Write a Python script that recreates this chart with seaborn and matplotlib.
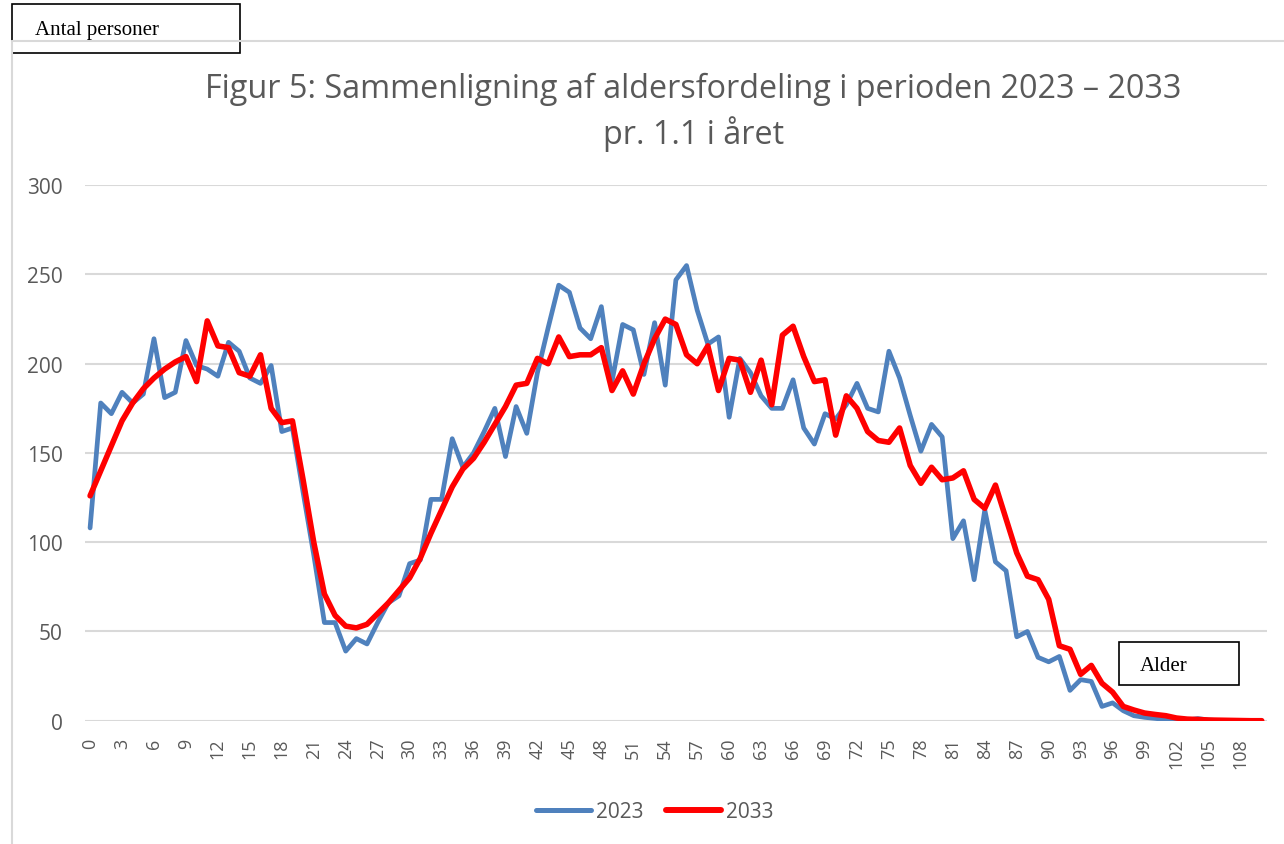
import numpy as np
import pandas as pd
import matplotlib
matplotlib.use("Agg")
import matplotlib.pyplot as plt
from matplotlib.lines import Line2D
from matplotlib.patches import Rectangle
import seaborn as sns

ages = list(range(0, 111))

pop_2023 = [108, 178, 172, 184, 178, 183, 214, 181, 184, 213,
            199, 197, 193, 212, 207, 192, 189, 199, 162, 164,
            128, 93, 55, 55, 39, 46, 43, 55, 66, 70,
            88, 90, 124, 124, 158, 142, 150, 162, 175, 148,
            176, 161, 195, 220, 244, 240, 220, 214, 232, 190,
            222, 219, 194, 223, 188, 247, 255, 230, 211, 215,
            170, 203, 195, 182, 175, 175, 191, 164, 155, 172,
            169, 177, 189, 175, 173, 207, 192, 171, 151, 166,
            159, 102, 112, 79, 118, 89, 84, 47, 50, 35.5,
            33, 36, 17, 23, 22, 8, 10, 5.6, 2.8, 1.9,
            1.3, 0.6, 0.4, 0.3, 1.2, 0.4, 0, 0, 0, 0, 0]

pop_2033 = [126, 140, 154, 168, 178, 186, 192, 197, 201, 204,
            190, 224, 210, 209, 195, 193, 205, 175, 167, 168,
            135, 100, 71, 59, 53, 52, 54, 60, 66, 73,
            80, 91, 105, 118, 131, 141, 147, 156, 166, 176,
            188, 189, 203, 200, 215, 204, 205, 205, 209, 185,
            196, 183, 200, 214, 225, 222, 205, 200, 210, 185,
            203, 202, 184, 202, 177, 216, 221, 204, 190, 191,
            160, 182, 175, 162, 157, 156, 164, 143, 133, 142,
            135, 136, 140, 124, 119, 132, 113, 94, 81, 79,
            68, 42, 40, 26, 31, 21, 16, 8, 6, 4.3,
            3.5, 2.8, 1.5, 0.9, 0.7, 0.4, 0.3, 0.2, 0.1, 0, 0]

years = ["2023", "2033"]
colors = {"2023": "#4F81BD", "2033": "#FF0000"}
xtick_labels = list(range(0, 109, 3))
yticks = [0, 50, 100, 150, 200, 250, 300]

title = "Figur 5: Sammenligning af aldersfordeling i perioden 2023 – 2033\npr. 1.1 i året"

df = pd.DataFrame({
    "Alder": ages * 2,
    "Antal": pop_2023 + pop_2033,
    "År": ["2023"] * len(ages) + ["2033"] * len(ages),
})

sns.set_theme(style="white")
plt.rcParams["font.family"] = ["Open Sans", "DejaVu Sans"]

fig = plt.figure(figsize=(12.84, 8.45), dpi=100)
ax = fig.add_axes([0.066, 0.1459, 0.9208, 0.6337])

sns.lineplot(data=df, x="Alder", y="Antal", hue="År", hue_order=years,
             palette=colors, ax=ax, legend=False)
for line, lw in zip(ax.get_lines(), [3.4, 4.0]):
    line.set_linewidth(lw)
    line.set_solid_joinstyle("round")
    line.set_solid_capstyle("round")

ax.set_xlim(-0.5, 110.5)
ax.set_ylim(0, 300)
ax.set_yticks(yticks)
ax.set_xticks(xtick_labels)
ax.set_xticklabels([str(v) for v in xtick_labels], rotation=90)
ax.yaxis.grid(True, color="#D9D9D9", linewidth=1.5)
ax.set_axisbelow(True)
for s in ax.spines.values():
    s.set_visible(False)
ax.tick_params(axis="both", length=0, labelcolor="#595959")
ax.tick_params(axis="y", pad=16, labelsize=15)
ax.tick_params(axis="x", pad=12, labelsize=13)
ax.set_xlabel("")
ax.set_ylabel("")

fig.text(0.54, 0.867, title, ha="center", va="center", fontsize=23.3,
         color="#595959", linespacing=1.35)

handles = [Line2D([], [], color=colors[y], linewidth=w, solid_capstyle="round")
           for y, w in zip(years, [3.6, 4.3])]
fig.legend(handles, years, loc="center", bbox_to_anchor=(0.51, 0.038), ncol=2,
           frameon=False, fontsize=15, handlelength=2.64, columnspacing=1.06,
           handletextpad=0.24, labelcolor="#595959")

# chart area border
fig.add_artist(Line2D([12 / 1284, 1], [1 - 42 / 845, 1 - 42 / 845],
                      color="#D9D9D9", linewidth=1.5, transform=fig.transFigure))
fig.add_artist(Line2D([12 / 1284, 12 / 1284], [0, 1 - 42 / 845],
                      color="#D9D9D9", linewidth=1.5, transform=fig.transFigure))

# text boxes
fig.add_artist(Rectangle((12 / 1284, 1 - 54 / 845), 228 / 1284, 49 / 845,
                         transform=fig.transFigure, facecolor="white",
                         edgecolor="black", linewidth=1.2))
fig.text(35 / 1284, 1 - 31 / 845, "Antal personer", ha="left", va="center",
         fontsize=15, family="Liberation Serif", color="black")
fig.add_artist(Rectangle((1119 / 1284, 1 - 686 / 845), 120 / 1284, 43 / 845,
                         transform=fig.transFigure, facecolor="white",
                         edgecolor="black", linewidth=1.2))
fig.text(1140 / 1284, 1 - 667 / 845, "Alder", ha="left", va="center",
         fontsize=15, family="Liberation Serif", color="black")

fig.savefig("out.png", dpi=100, facecolor="white")
